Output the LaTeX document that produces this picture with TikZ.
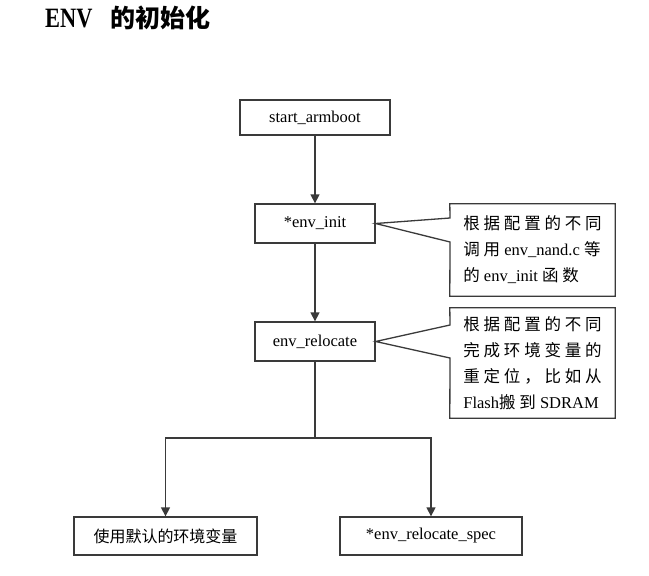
\documentclass[tikz,border=0pt]{standalone}
\usepackage{graphicx}
\usepackage{fontspec}
\setmainfont{Liberation Serif}
\newfontfamily\cjk{Noto Sans CJK SC}
\newfontfamily\cjs[LetterSpace=23]{Noto Sans CJK SC}
\usetikzlibrary{arrows.meta,calc}
\definecolor{linec}{HTML}{3A3A3A}
\begin{document}
\begin{tikzpicture}[x=1pt,y=-1pt,
  box/.style={draw=linec, line width=1.3pt, inner sep=0pt, font=\fontsize{16.5}{20}\selectfont},
  arr/.style={draw=linec, line width=1.3pt, -{Triangle[width=9pt,length=9pt]}},
  conn/.style={draw=linec, line width=1.3pt},
  callout/.style={draw=linec, line width=1.3pt, line join=miter},
  calltext/.style={inner sep=0pt, align=left, font=\fontsize{16.5}{26}\selectfont}]
\useasboundingbox (0,0) rectangle (649,576);
% title
\node[anchor=base west, inner sep=0pt] (tenv) at (45,27) {\bfseries\fontsize{28}{30}\selectfont\scalebox{0.8}[1]{ENV}};
\node[anchor=base west, inner sep=0pt] (tcjk) at (110,27) {\cjk\bfseries\fontsize{25}{30}\selectfont 的初始化};
% boxes
\node[box, minimum width=150pt, minimum height=35pt] (start) at (315,117.5) {start\_armboot};
\node[box, minimum width=120pt, minimum height=39pt] (init) at (315,223.5) {*env\_init};
\node[box, minimum width=120pt, minimum height=39pt] (reloc) at (315,341.5) {env\_relocate};
\node[box, minimum width=183pt, minimum height=38pt] (dl) at (165.5,536) {\cjk\fontsize{16}{20}\selectfont 使用默认的环境变量};
\node[box, minimum width=182pt, minimum height=38pt] (dr) at (431,536) {*env\_relocate\_spec};
% callouts
\node[calltext, minimum width=165pt, minimum height=92pt] (c1) at (532.5,250) {{\cjs 根据配置的不同}\\{\cjs 调用} env\_nand.c {\cjs 等}\\{\cjs 的} env\_init {\cjs 函数}};
\node[calltext, minimum width=165pt, minimum height=110pt] (c2) at (532.5,363) {{\cjs 根据配置的不同}\\{\cjs 完成环境变量的}\\{\cjs 重定位，比如从}\\Flash{\cjs 搬到} SDRAM};
\coordinate (c1a) at (450,218);
\coordinate (c1b) at (450,242);
\coordinate (c2a) at (450,325);
\coordinate (c2b) at (450,358);
\draw[callout] (c1a) -- (c1.north west) -- (c1.north east) -- (c1.south east) -- (c1.south west) -- (c1b) -- (init.east) -- cycle;
\draw[callout] (c2a) -- (c2.north west) -- (c2.north east) -- (c2.south east) -- (c2.south west) -- (c2b) -- (reloc.east) -- cycle;
% connectors
\draw[arr] (start) -- (init);
\draw[arr] (init) -- (reloc);
\coordinate (br) at (315,438);
\draw[conn] (reloc) -- (br);
\draw[arr] (br) -| (dl);
\draw[arr] (br) -| (dr);
\end{tikzpicture}
\end{document}
